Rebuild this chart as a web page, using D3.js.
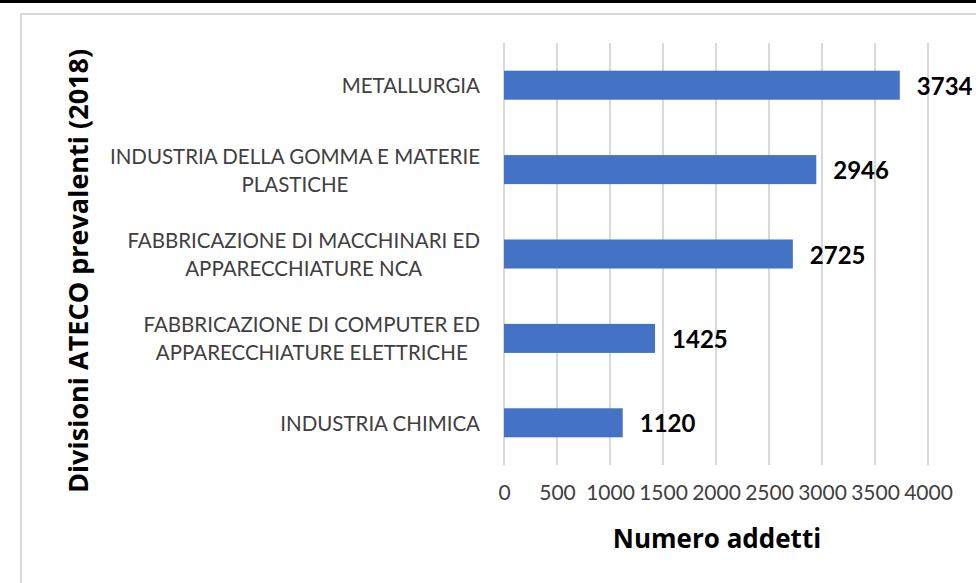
<!DOCTYPE html>
<html>
<head>
<meta charset="utf-8">
<script src="https://cdn.jsdelivr.net/npm/d3@7"></script>
<style>
  html, body { margin: 0; padding: 0; background: #fff; }
  svg { display: block; }
</style>
</head>
<body>
<svg id="chart" width="976" height="583"></svg>
<script>
const categories = [
  ["METALLURGIA"],
  ["INDUSTRIA DELLA GOMMA E MATERIE", "PLASTICHE"],
  ["FABBRICAZIONE DI MACCHINARI ED", "APPARECCHIATURE NCA"],
  ["FABBRICAZIONE DI COMPUTER ED", "APPARECCHIATURE ELETTRICHE"],
  ["INDUSTRIA CHIMICA"]
];
const values = [3734, 2946, 2725, 1425, 1120];
const xTicks = [0, 500, 1000, 1500, 2000, 2500, 3000, 3500, 4000];
const xTitle = "Numero addetti";
const yTitle = "Divisioni ATECO prevalenti (2018)";

const svg = d3.select("#chart");
const FONT = "Lato, 'Open Sans', sans-serif";
const TFONT = "'Open Sans', Lato, sans-serif";

// page frame
svg.append("rect").attr("x", 0).attr("y", 0).attr("width", 976).attr("height", 3).attr("fill", "#000");
svg.append("rect").attr("x", 21).attr("y", 14).attr("width", 1000).attr("height", 600)
  .attr("fill", "none").attr("stroke", "#d9d9d9").attr("stroke-width", 2);

const x = d3.scaleLinear().domain([0, 4000]).range([504, 928]);
const idx = d3.range(categories.length);
const y = d3.scaleBand().domain(idx).range([43, 465]).paddingInner(0.656).paddingOuter(0.328);

// gridlines
svg.append("g").selectAll("line").data(xTicks).join("line")
  .attr("x1", d => x(d)).attr("x2", d => x(d))
  .attr("y1", 43).attr("y2", 465)
  .attr("stroke", "#d9d9d9").attr("stroke-width", 2);

// x tick labels via axis
const xAxis = d3.axisBottom(x).tickValues(xTicks).tickSize(0).tickPadding(0).tickFormat(d3.format("d"));
const gx = svg.append("g").attr("transform", "translate(0,485)").call(xAxis);
gx.select(".domain").remove();
gx.selectAll("text").attr("font-family", FONT).attr("font-size", 21).attr("fill", "#404040").attr("dy", "0.71em");

// bars
svg.append("g").selectAll("rect").data(idx).join("rect")
  .attr("x", x(0)).attr("y", i => y(i))
  .attr("width", i => x(values[i]) - x(0)).attr("height", y.bandwidth())
  .attr("fill", "#4472c4");

// value labels
svg.append("g").selectAll("text").data(idx).join("text")
  .attr("x", i => x(values[i]) + 17).attr("y", i => y(i) + y.bandwidth() / 2)
  .attr("dominant-baseline", "central")
  .attr("font-family", FONT).attr("font-weight", "bold").attr("font-size", 24).attr("fill", "#000")
  .text(i => values[i]);

// category labels
const RIGHT = 480, LH = 28;
const gl = svg.append("g");
idx.forEach(i => {
  const lines = categories[i];
  const cy = y(i) + y.bandwidth() / 2;
  const t = gl.append("text").attr("font-family", FONT).attr("font-size", 20.5).attr("fill", "#404040")
    .attr("text-anchor", "middle").attr("dominant-baseline", "central");
  lines.forEach((ln, k) => {
    t.append("tspan").attr("x", 0).attr("y", cy + (k - (lines.length - 1) / 2) * LH).text(ln);
  });
  let maxW = 0;
  t.selectAll("tspan").each(function() { maxW = Math.max(maxW, this.getComputedTextLength()); });
  t.selectAll("tspan").attr("x", RIGHT - maxW / 2);
});

// axis titles
svg.append("text").attr("x", 717).attr("y", 548).attr("text-anchor", "middle")
  .attr("font-family", TFONT).attr("font-weight", "bold").attr("font-size", 26).attr("fill", "#000")
  .text(xTitle);
svg.append("text").attr("transform", "translate(88,271) rotate(-90)").attr("text-anchor", "middle")
  .attr("font-family", TFONT).attr("font-weight", "bold").attr("font-size", 27).attr("fill", "#000")
  .text(yTitle);
</script>
</body>
</html>
